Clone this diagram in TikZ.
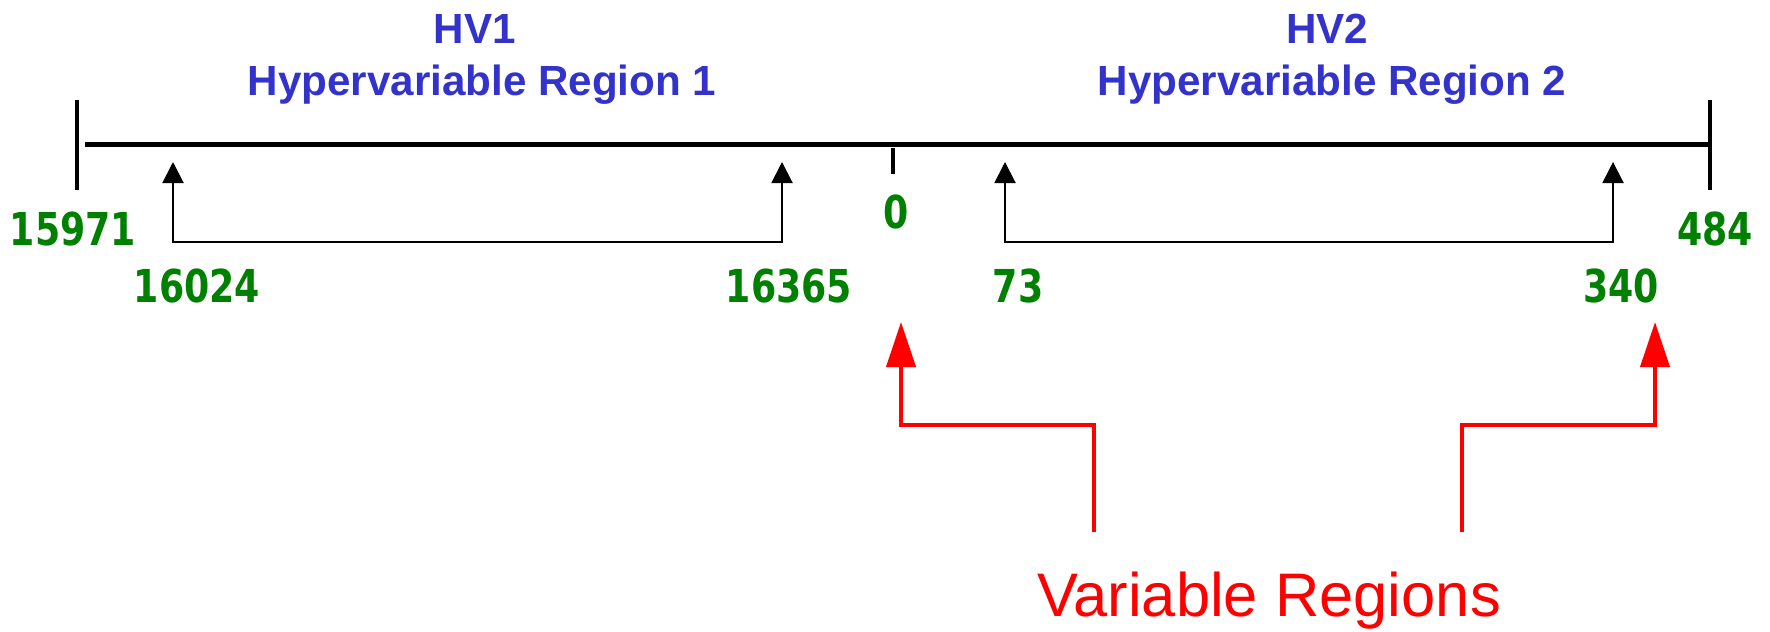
\documentclass[tikz,border=0pt]{standalone}
\usepackage{fontspec}
\usetikzlibrary{arrows.meta}
\newfontfamily\titlefont{Liberation Sans Bold}
\newfontfamily\numfont[FakeStretch=0.8]{DejaVu Sans Bold}
\newfontfamily\notefont{Liberation Sans}
\definecolor{hvblue}{RGB}{51,51,204}
\definecolor{posgreen}{RGB}{0,128,0}
\tikzset{
  axis/.style={line width=1.4pt, black},
  bracket/.style={line width=0.57pt, black, {Triangle[length=0.21cm,width=0.21cm]}-{Triangle[length=0.21cm,width=0.21cm]}},
  pointer/.style={line width=1.13pt, red, -{Triangle[length=0.45cm,width=0.29cm]}},
  poslabel/.style={anchor=base, inner sep=0pt, text=posgreen, font=\numfont\fontsize{12.9}{14}\selectfont},
  hvtitle/.style={anchor=base, inner sep=0pt, text=hvblue, font=\titlefont\fontsize{12}{14}\selectfont},
}
\begin{document}
\begin{tikzpicture}
    \useasboundingbox (0,0) rectangle (17.7,6.31);
    % titles
    \node[hvtitle] (hv1) at (4.75,5.88) {HV1};
    \node[hvtitle] (hv1name) at (4.82,5.36) {Hypervariable Region 1};
    \node[hvtitle] (hv2) at (13.27,5.88) {HV2};
    \node[hvtitle] (hv2name) at (13.32,5.36) {Hypervariable Region 2};
    % sequence axis
    \draw[axis] (0.85,4.865) -- (17.10,4.865);
    \draw[axis] (0.77,5.31) -- (0.77,4.41);
    \draw[axis] (17.10,5.31) -- (17.10,4.41);
    \draw[axis] (8.93,4.83) -- (8.93,4.57);
    % positions
    \node[poslabel] (p15971) at (0.73,3.86) {15971};
    \node[poslabel] (p16024) at (1.97,3.29) {16024};
    \node[poslabel] (p16365) at (7.89,3.29) {16365};
    \node[poslabel] (p0) at (8.96,4.03) {0};
    \node[poslabel] (p73) at (10.18,3.29) {73};
    \node[poslabel] (p340) at (16.21,3.29) {340};
    \node[poslabel] (p484) at (17.15,3.86) {484};
    % hypervariable brackets
    \coordinate (t1) at (1.73,4.69);
    \coordinate (b1) at (1.73,3.89);
    \coordinate (b2) at (7.82,3.89);
    \coordinate (t2) at (7.82,4.69);
    \coordinate (t3) at (10.05,4.69);
    \coordinate (b3) at (10.05,3.89);
    \coordinate (b4) at (16.13,3.89);
    \coordinate (t4) at (16.13,4.69);
    \draw[bracket] (t1) -- (b1) -- (b2) -- (t2);
    \draw[bracket] (t3) -- (b3) -- (b4) -- (t4);
    % variable regions note
    \node[anchor=base, inner sep=0pt, text=red, font=\notefont\fontsize{17.5}{20}\selectfont] (note) at (12.69,0.15) {Variable Regions};
    \coordinate (v1) at (10.94,0.99);
    \coordinate (v2) at (14.62,0.99);
    \coordinate (r1) at (9.01,3.09);
    \coordinate (r2) at (16.55,3.09);
    \draw[pointer] (v1) -- ++(0,1.07) -| (r1);
    \draw[pointer] (v2) -- ++(0,1.07) -| (r2);
\end{tikzpicture}
\end{document}
